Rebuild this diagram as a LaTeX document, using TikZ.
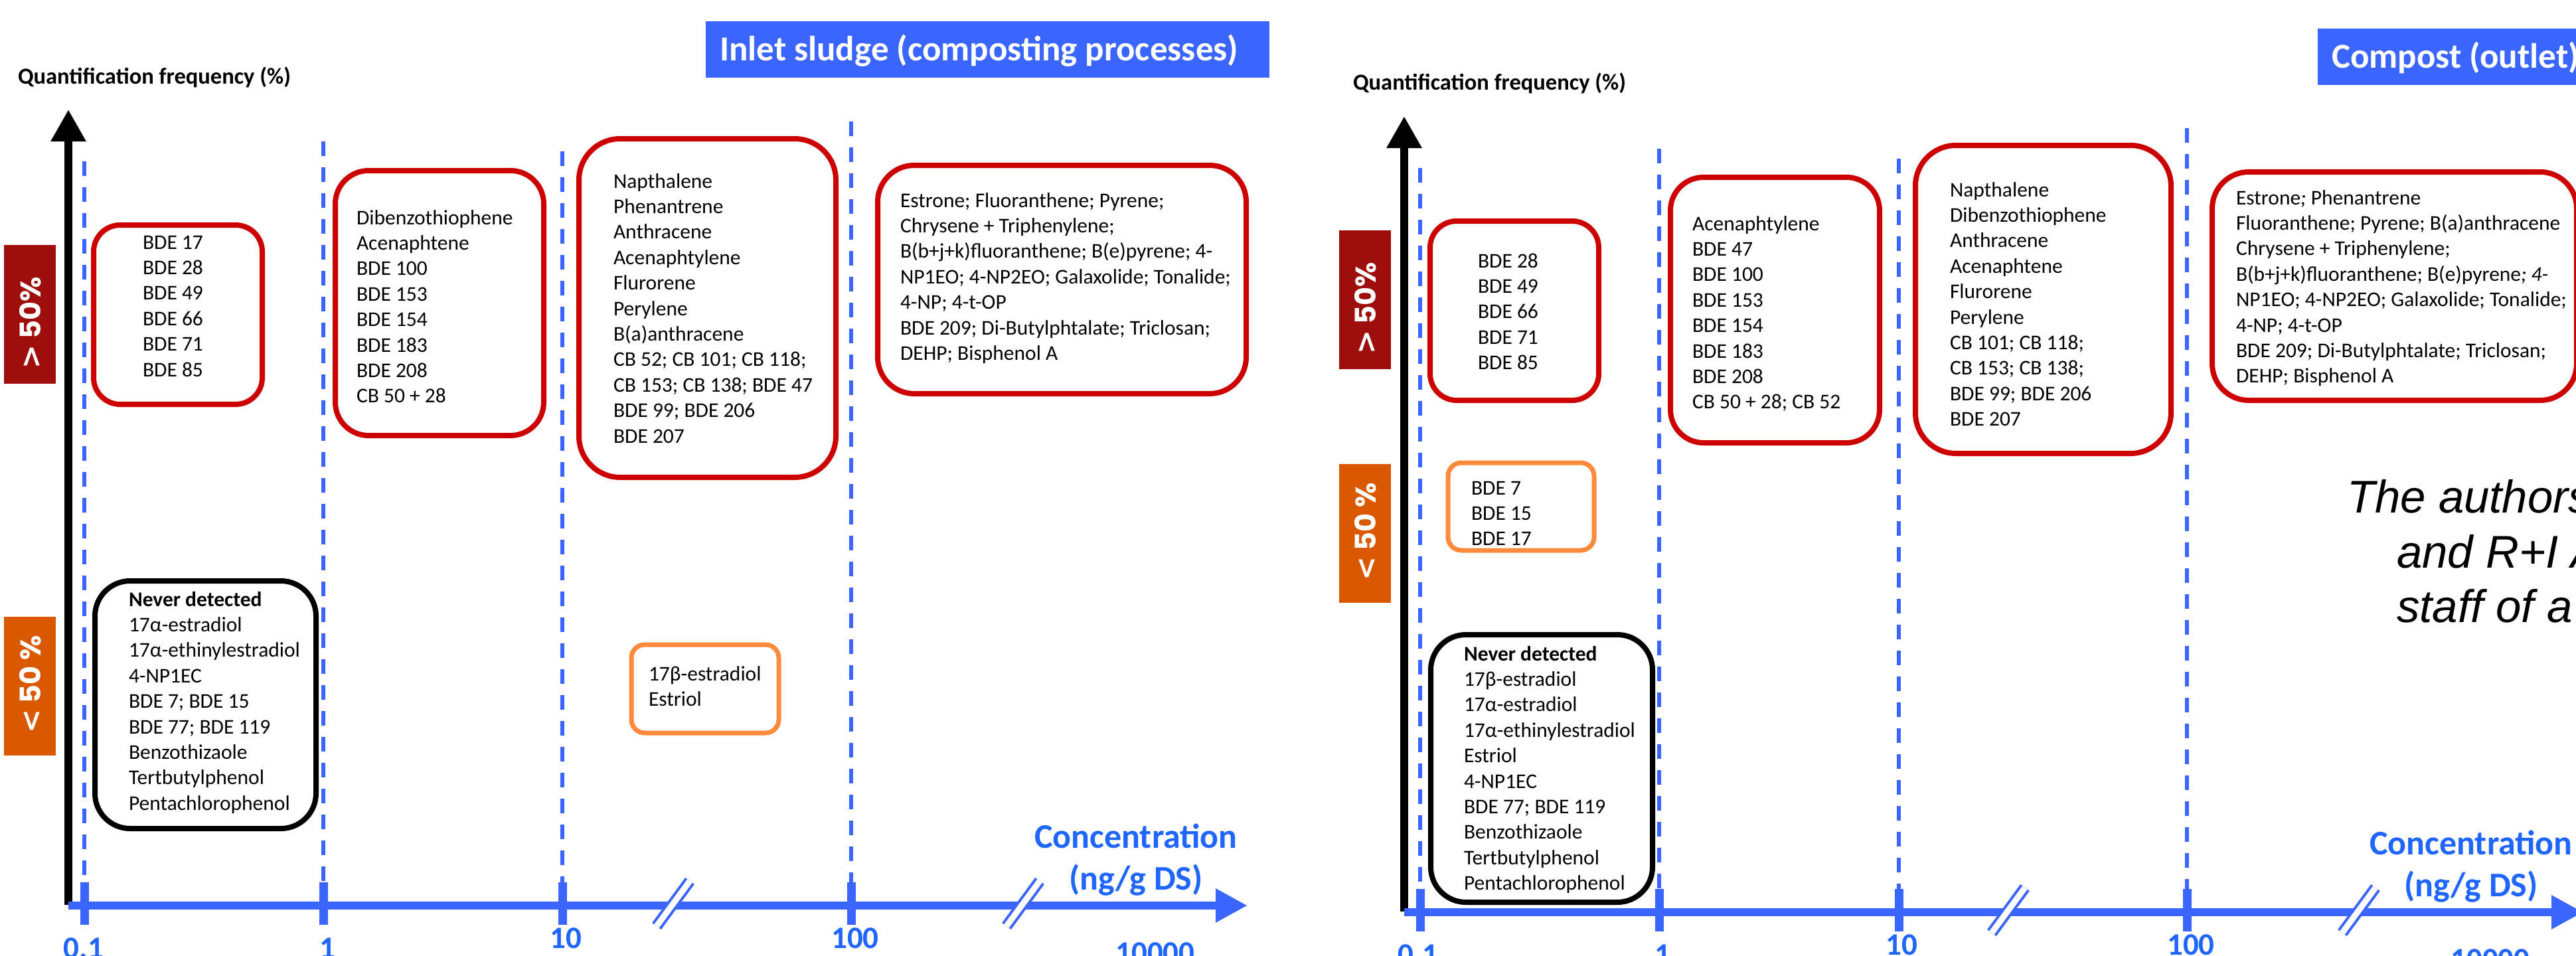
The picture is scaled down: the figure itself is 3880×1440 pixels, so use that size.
\documentclass[tikz,border=0pt]{standalone}
\usepackage{fontspec}
\setmainfont{Carlito}
\newfontfamily\gothic{Poppins}
\newfontfamily\symfont{DejaVu Sans}
\newfontfamily\arialish{Liberation Sans}
\usetikzlibrary{arrows.meta}

\definecolor{boxred}{RGB}{204,0,0}
\definecolor{barred}{RGB}{158,14,11}
\definecolor{barorange}{RGB}{217,88,0}
\definecolor{boxorange}{RGB}{255,138,60}
\definecolor{axisblue}{RGB}{58,102,255}
\definecolor{labelblue}{RGB}{31,102,255}

\tikzset{
  chip/.style={draw, fill=white, line width=1.6pt, inner sep=0pt},
  redchip/.style={chip, draw=boxred},
  orangechip/.style={chip, draw=boxorange, line width=1.4pt},
  blackchip/.style={chip, draw=black},
  item/.style={inner sep=0pt, anchor=base west, font=\fontsize{6.3pt}{7.7pt}\selectfont},
  guide/.style={draw=axisblue, line width=1.2pt, dash pattern=on 4.4pt off 3.4pt},
  tickmark/.style={draw=axisblue, line width=2.6pt},
  ticklabel/.style={inner sep=0pt, anchor=base, text=labelblue, font=\fontsize{9.4pt}{11pt}\selectfont\bfseries},
  conclabel/.style={inner sep=0pt, anchor=base, text=labelblue, font=\fontsize{10.4pt}{12.6pt}\selectfont\bfseries},
  ylabel/.style={inner sep=0pt, anchor=base west, font=\fontsize{6.9pt}{8.4pt}\selectfont\bfseries},
  bar/.style={inner sep=0pt, minimum width=15.6pt, minimum height=41.8pt},
  pct/.style={inner sep=0pt, rotate=90, text=white, font=\gothic\bfseries\fontsize{8.6pt}{10pt}\selectfont},
  titlebar/.style={inner sep=0pt, fill=axisblue, minimum height=17pt},
  titletext/.style={inner sep=0pt, anchor=base west, text=white, font=\fontsize{10.6pt}{12.8pt}\selectfont\bfseries},
  yarrow/.style={line width=2.4pt, -{Triangle[length=9.6pt, width=10pt]}},
  xarrow/.style={draw=axisblue, line width=2.4pt, -{Triangle[length=9.6pt, width=9.6pt]}},
  note/.style={inner sep=0pt, anchor=base west, font=\arialish\itshape\fontsize{13.8pt}{16.5pt}\selectfont},
}

% comparison signs of the frequency bars
\newcommand\gtsign{{\symfont\bfseries >}}
\newcommand\ltsign{{\symfont\bfseries <}}

% rounded frame from its outer corners (x1,y1)-(x2,y2) and outer radius, in pixel units
\newcommand\chipat[7]{%
  \node[#2, rounded corners={(#7-4)*0.2pt},
        minimum width={(#5-#3-8)*0.2pt}, minimum height={(#6-#4-8)*0.2pt}]
        (#1) at ({(#3+#5)/2},{(#4+#6)/2}) {};}

% one text line per item, first baseline at #3, fixed line pitch
\newcommand\listat[4]{%
  \foreach \t [count=\i] in {#4} {\node[item] (#1-\i) at (#2,{#3+(\i-1)*38.4}) {\t};}}

\begin{document}
\begin{tikzpicture}[x=0.2pt, y=-0.2pt]
\useasboundingbox (0,0) rectangle (3880,1440);
\clip (0,0) rectangle (3880,1440);

% ---------- dashed decade guides ----------
\foreach \gx/\gy in {127/243, 487/213, 847/228, 1282/183}
  \draw[guide] (\gx,\gy) -- (\gx,1329);
\foreach \gx/\gy in {2139/253, 2499/224, 2860/239, 3294/193}
  \draw[guide] (\gx,\gy) -- (\gx,1339);

% ================= inlet sludge panel =================
\node[titlebar, minimum width=169.8pt] (ltitlebar) at (1487.5,74.5) {};
\node[titletext] (ltitle) at (1083,92) {Inlet sludge (composting processes)};
\node[ylabel] (lylabel) at (26,126) {Quantification frequency (\%)};

\node[bar, fill=barred] (lhibar) at (45,473) {};
\node[pct] (lhitext) at (46,486) {\gtsign{} 50\%};
\node[bar, fill=barorange] (llobar) at (45,1033) {};
\node[pct] (llotext) at (46,1031) {\ltsign{} 50 \%};

\coordinate (lyfoot) at (103,1363);
\coordinate (lytop) at (103,165);
\draw[yarrow] (lyfoot) -- (lytop);

\chipat{lA}{redchip}{137}{335}{399}{613}{44}
\listat{lA}{214}{375}{BDE 17, BDE 28, BDE 49, BDE 66, BDE 71, BDE 85}

\chipat{lB}{redchip}{501}{253}{823}{660}{54}
\listat{lB}{536}{338}{Dibenzothiophene, Acenaphtene, BDE 100, BDE 153, BDE 154, BDE 183, BDE 208, CB 50 + 28}

\chipat{lC}{redchip}{868}{205}{1263}{723}{66}
\listat{lC}{923}{283}{Napthalene, Phenantrene, Anthracene, Acenaphtylene, Flurorene, Perylene, B(a)anthracene, CB 52; CB 101; CB 118;, CB 153; CB 138; BDE 47, BDE 99; BDE 206, BDE 207}

\chipat{lD}{redchip}{1318}{245}{1881}{597}{59}
\listat{lD}{1355}{312}{Estrone; Fluoranthene; Pyrene;, Chrysene + Triphenylene;, B(b+j+k)fluoranthene; B(e)pyrene; 4-, NP1EO; 4-NP2EO; Galaxolide; Tonalide;, 4-NP; 4-t-OP, BDE 209; Di-Butylphtalate; Triclosan;, DEHP; Bisphenol A}

\chipat{lE}{blackchip}{139}{871}{480}{1252}{57}
\listat{lE}{193}{913}{{\bfseries Never detected}, 17α-estradiol, 17α-ethinylestradiol, 4-NP1EC, BDE 7; BDE 15, BDE 77; BDE 119, Benzothizaole, Tertbutylphenol, Pentachlorophenol}

\chipat{lF}{orangechip}{947}{967}{1177}{1108}{24}
\listat{lF}{976}{1025}{17β-estradiol, Estriol}

% concentration axis
\coordinate (lxfoot) at (103,1364);
\coordinate (lxtip) at (1879,1364);
\draw[xarrow] (lxfoot) -- (lxtip);
\foreach \tx in {127,487,847,1282}
  \draw[tickmark] (\tx,1329) -- (\tx,1393);

\node[ticklabel] (l01) at (126,1443) {0.1};
\node[ticklabel] (l1) at (493,1443) {1};
\node[ticklabel] (l10) at (852,1428) {10};
\node[ticklabel] (l100) at (1288,1428) {100};
\node[ticklabel] (l10000) at (1740,1450) {10000};
\node[conclabel] (lconc) at (1711,1277) {Concentration};
\node[conclabel] (lunit) at (1711,1340) {(ng/g DS)};

% ================= compost panel =================
\node[titlebar, minimum width=84pt] (rtitlebar) at (3701,85.5) {};
\node[titletext] (rtitle) at (3511,102) {Compost (outlet)};
\node[ylabel] (rylabel) at (2037,136) {Quantification frequency (\%)};

\node[bar, fill=barred] (rhibar) at (2056,451) {};
\node[pct] (rhitext) at (2057,464) {\gtsign{} 50\%};
\node[bar, fill=barorange] (rlobar) at (2056,803) {};
\node[pct] (rlotext) at (2057,801) {\ltsign{} 50 \%};

\coordinate (ryfoot) at (2115,1373);
\coordinate (rytop) at (2115,175);
\draw[yarrow] (ryfoot) -- (rytop);

\chipat{rA}{redchip}{2150}{329}{2412}{607}{44}
\listat{rA}{2225}{403}{BDE 28, BDE 49, BDE 66, BDE 71, BDE 85}

\chipat{rB}{orangechip}{2177}{693}{2405}{833}{24}
\listat{rB}{2215}{745}{BDE 7, BDE 15, BDE 17}

\chipat{rC}{blackchip}{2151}{952}{2493}{1363}{57}
\listat{rC}{2204}{995}{{\bfseries Never detected}, 17β-estradiol, 17α-estradiol, 17α-ethinylestradiol, Estriol, 4-NP1EC, BDE 77; BDE 119, Benzothizaole, Tertbutylphenol, Pentachlorophenol}

\chipat{rD}{redchip}{2512}{263}{2835}{671}{54}
\listat{rD}{2548}{347}{Acenaphtylene, BDE 47, BDE 100, BDE 153, BDE 154, BDE 183, BDE 208, CB 50 + 28; CB 52}

\chipat{rE}{redchip}{2881}{215}{3274}{687}{65}
\listat{rE}{2936}{296}{Napthalene, Dibenzothiophene, Anthracene, Acenaphtene, Flurorene, Perylene, CB 101; CB 118;, CB 153; CB 138;, BDE 99; BDE 206, BDE 207}

\chipat{rF}{redchip}{3328}{255}{3885}{607}{59}
\listat{rF}{3367}{308}{Estrone\textit{;} Phenantrene, Fluoranthene; Pyrene; B(a)anthracene, Chrysene + Triphenylene;, B(b+j+k)fluoranthene; B(e)pyrene\textit{; 4-}, NP1EO; 4-NP2EO; Galaxolide; Tonalide;, 4-NP; 4-t-OP, BDE 209; Di-Butylphtalate; Triclosan;, DEHP; Bisphenol A}

\node[note] (note1) at (3534,772) {The authors};
\node[note] (note2) at (3609,855) {and R+I A};
\node[note] (note3) at (3609,937) {staff of a};

\coordinate (rxfoot) at (2115,1374);
\coordinate (rxtip) at (3891,1374);
\draw[xarrow] (rxfoot) -- (rxtip);
\foreach \tx in {2139,2499,2860,3294}
  \draw[tickmark] (\tx,1339) -- (\tx,1403);

\node[ticklabel] (r01) at (2136,1453) {0.1};
\node[ticklabel] (r1) at (2504,1453) {1};
\node[ticklabel] (r10) at (2864,1438) {10};
\node[ticklabel] (r100) at (3300,1438) {100};
\node[ticklabel] (r10000) at (3751,1460) {10000};
\node[conclabel] (rconc) at (3722,1287) {Concentration};
\node[conclabel] (runit) at (3722,1350) {(ng/g DS)};

% ---------- axis break marks ----------
\foreach \bx/\by in {1014/1361, 1541/1361, 3025/1371, 3553/1371} {
  \draw[axisblue, line width=3.4pt] (\bx-25,\by+34) -- (\bx+25,\by-34);
  \draw[white, line width=1.8pt] (\bx-25,\by+34) -- (\bx+25,\by-34);
}
\end{tikzpicture}
\end{document}
